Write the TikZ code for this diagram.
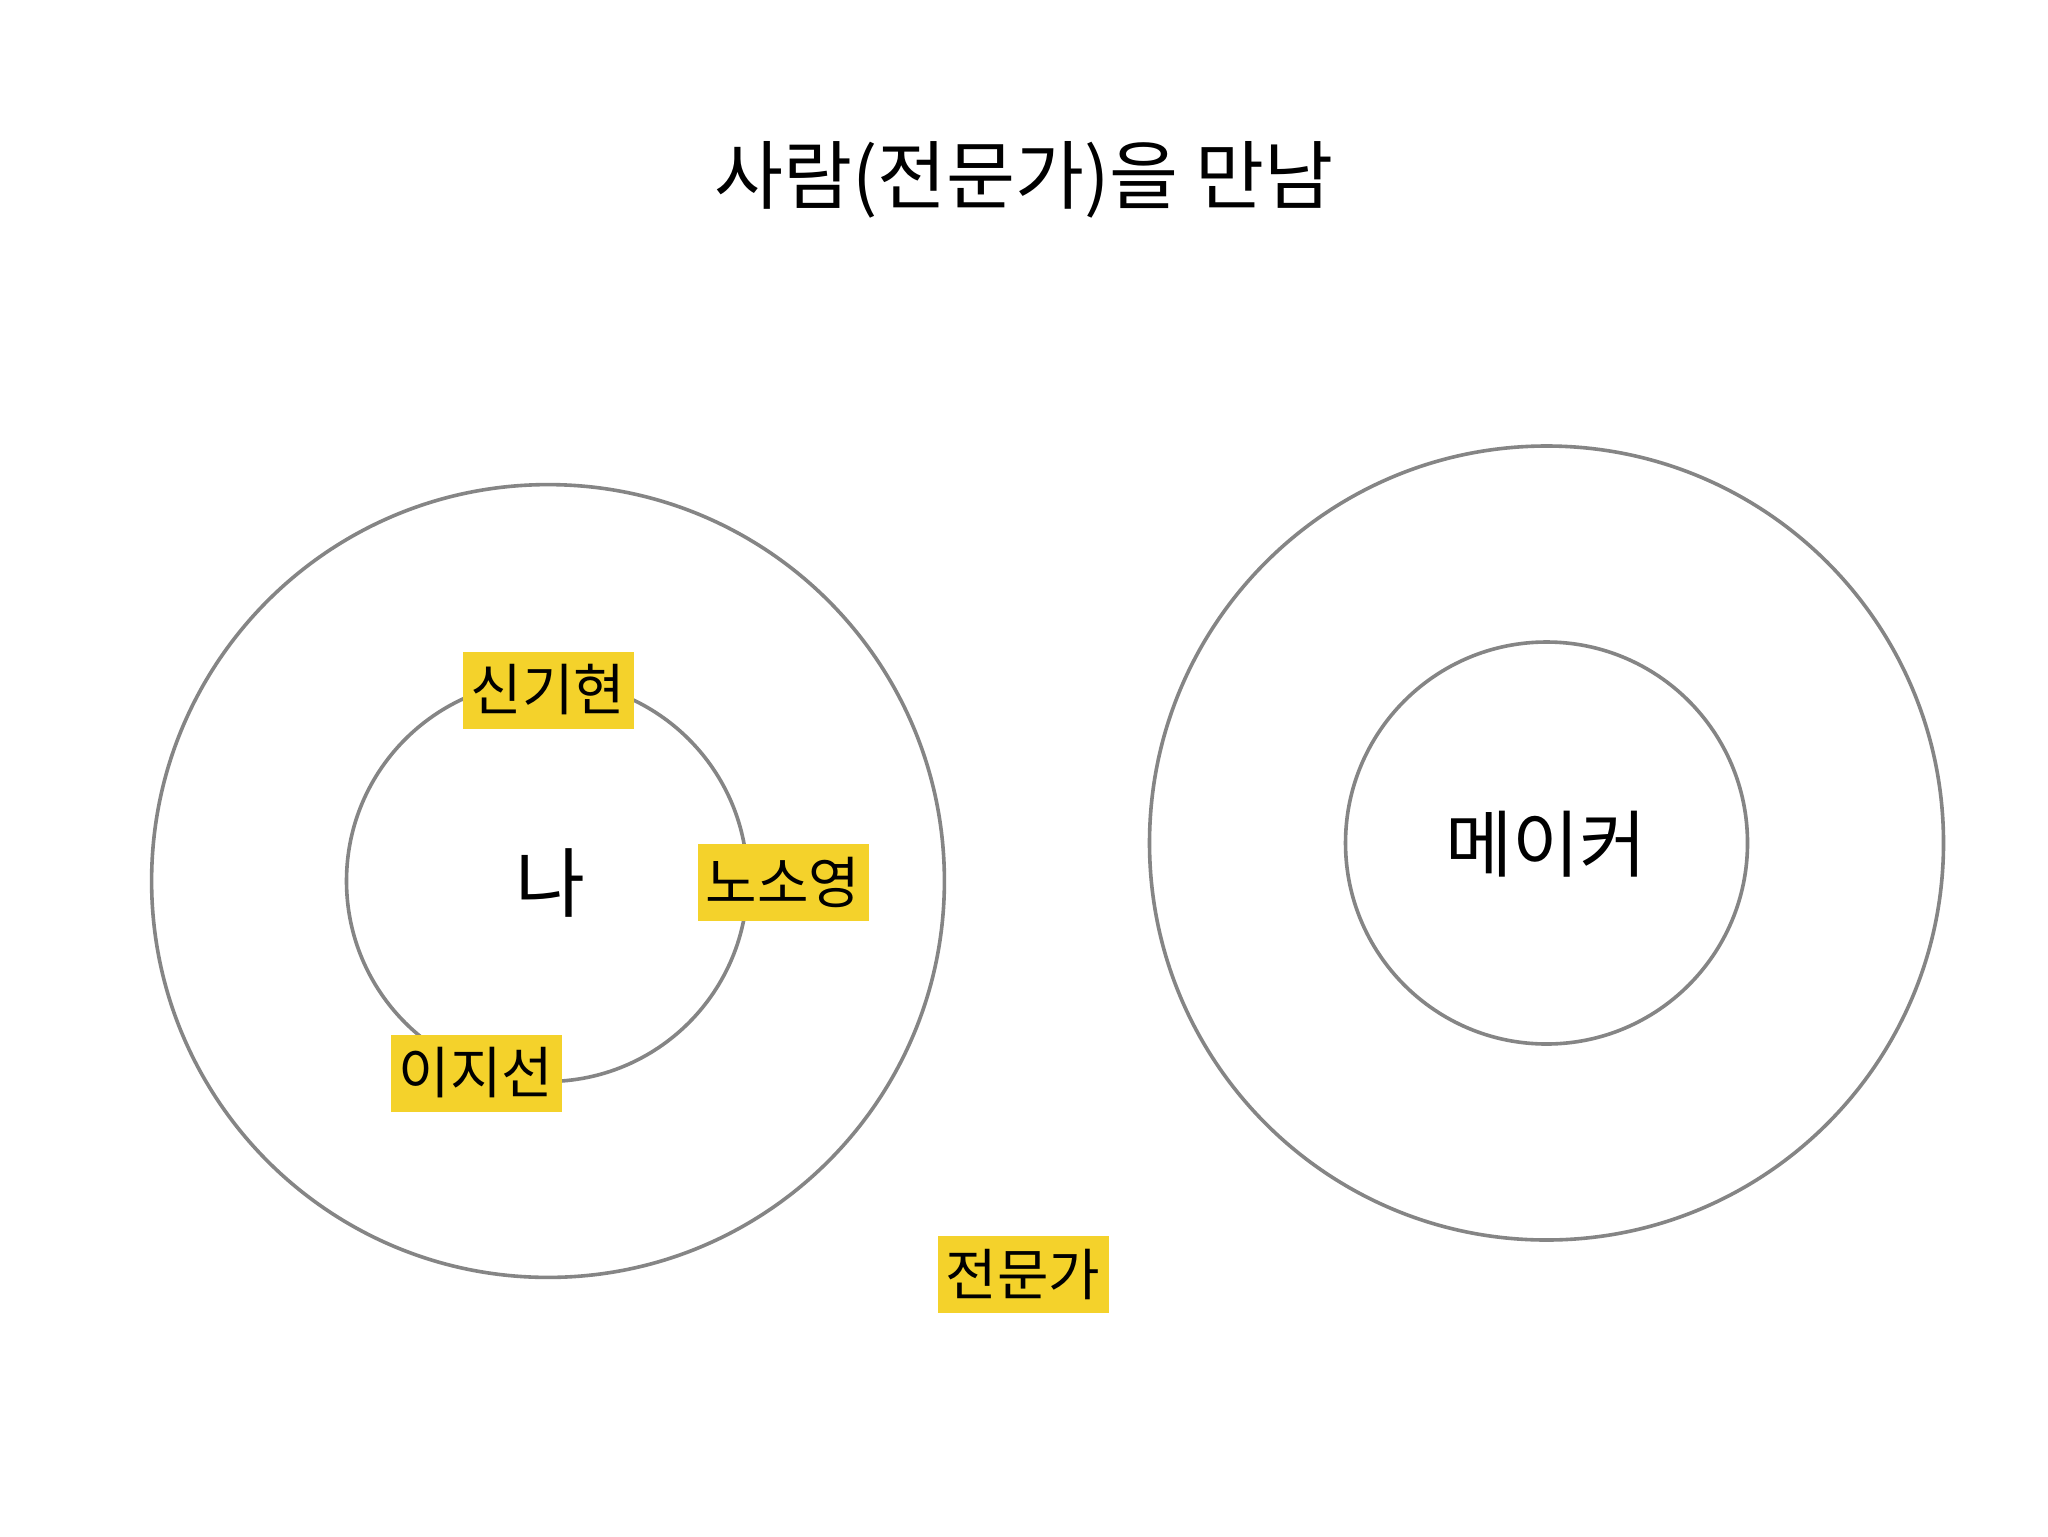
\documentclass[tikz,border=0pt]{standalone}
\usepackage{fontspec}
\setmainfont{Noto Sans CJK KR}
\definecolor{tagyellow}{HTML}{F4D22B}
\definecolor{ringgray}{HTML}{858585}
\begin{document}
\begin{tikzpicture}[x=0.5pt,y=-0.5pt,
  ring/.style={circle,draw=ringgray,line width=1.8pt,inner sep=0pt},
  tag/.style={fill=tagyellow,inner sep=0pt,minimum width=85.5pt,minimum height=38.5pt,font=\fontsize{28}{28}\selectfont},
  big/.style={font=\fontsize{38}{38}\selectfont}]
\useasboundingbox[fill=white] (0,0) rectangle (2048,1536);
\node[font=\fontsize{37.5}{37.5}\selectfont] (title) at (1024,180) {사람(전문가)을 만남};
\node[ring,minimum size=396.4pt] (louter) at (548,881) {};
\node[ring,minimum size=200.5pt] (linner) at (547,881) {};
\node[ring,minimum size=397pt] (router) at (1546.5,843) {};
\node[ring,minimum size=201pt] (rinner) at (1546.5,843) {};
\node[big] (me) at (550,883) {나};
\node[font=\fontsize{36.5}{36.5}\selectfont] (maker) at (1546,844) {메이커};
\node[tag] (t1) at (548,690) {신기현};
\node[tag] (t2) at (783,882) {노소영};
\node[tag] (t3) at (476,1073) {이지선};
\node[tag] (t4) at (1023,1274) {전문가};
\end{tikzpicture}
\end{document}
